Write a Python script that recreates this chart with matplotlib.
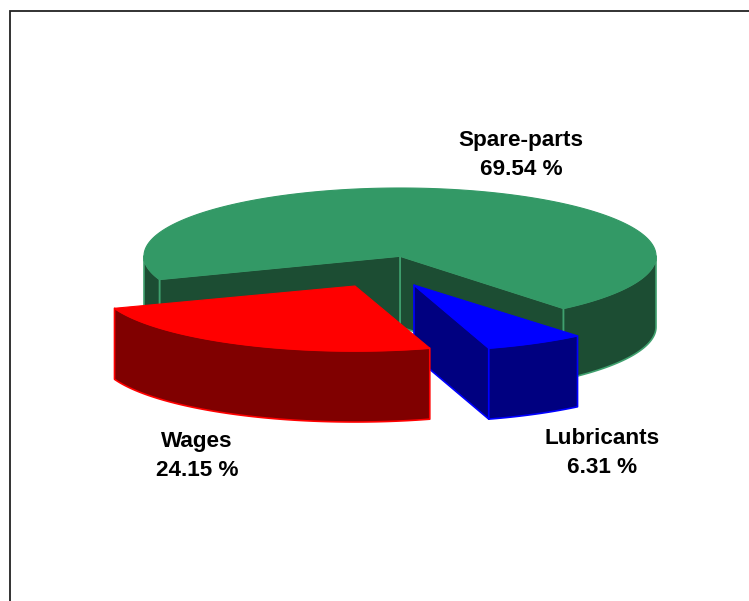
import numpy as np
import matplotlib
matplotlib.use("Agg")
import matplotlib.pyplot as plt
from matplotlib.patches import Polygon

plt.rcParams['font.family'] = ['Liberation Sans', 'DejaVu Sans']

labels = ["Spare-parts", "Wages", "Lubricants"]
values = [69.54, 24.15, 6.31]

top_colors = ["#339966", "#FF0000", "#0000FF"]
side_colors = ["#1C4D33", "#800000", "#000080"]
edge_colors = ["#3FA06E", "#FF0000", "#0000FF"]
centers = [(400, 256), (355, 286), (414, 285)]
radii_y = [68, 65, 66]
cut_faces = [(True, True), (False, False), (True, False)]
label_pos = [(521, 155), (197, 456), (602.5, 453)]

START = -50.3
RX, DEPTH = 256, 71

fig = plt.figure(figsize=(7.49, 6.01), dpi=100)
ax = fig.add_axes([0, 0, 1, 1])
ax.set_xlim(0, 749)
ax.set_ylim(601, 0)
ax.axis("off")

ax.plot([9.5, 9.5, 749], [601, 11, 11], color="#222222", lw=1.3,
        solid_joinstyle="miter", zorder=1)


def arc(c, ry, a0, a1, dy=0):
    t = np.radians(np.linspace(a0, a1, max(int(abs(a1 - a0)), 2) + 1))
    return np.column_stack([c[0] + RX * np.cos(t), c[1] + dy - ry * np.sin(t)])


def face(pts, fc, ec, z, lw=1.2):
    ax.add_patch(Polygon(pts, closed=True, facecolor=fc, edgecolor=ec, lw=lw,
                         joinstyle="round", zorder=z))


def wedge(i, a0, a1, z):
    c, ry = centers[i], radii_y[i]
    fc, sc, ec = top_colors[i], side_colors[i], edge_colors[i]
    base = np.array(c, float)
    down = np.array([0, DEPTH])
    for a, show in zip((a0, a1), cut_faces[i]):
        if show:
            p = arc(c, ry, a, a)[0]
            face([base, p, p + down, base + down], sc, ec, z)
    # visible part of the curved rim: the lower half of the ellipse
    for lo, hi in ((a0, a1), (a0 - 360, a1 - 360), (a0 + 360, a1 + 360)):
        s, e = max(lo, 180), min(hi, 360)
        if e > s:
            face(np.vstack([arc(c, ry, s, e), arc(c, ry, e, s, DEPTH)]), sc, ec, z + 0.1)
    ax.add_patch(Polygon(np.vstack([[base], arc(c, ry, a0, a1)]), closed=True,
                         facecolor=fc, edgecolor=fc if i == 0 else ec, lw=0.8,
                         zorder=z + 0.2))


angles = START + np.cumsum([0] + values) * 3.6
wedge(0, angles[0], angles[1], 2)
wedge(2, angles[2], angles[3], 3)
wedge(1, angles[1], angles[2], 4)

for name, v, (x, y) in zip(labels, values, label_pos):
    ax.text(x, y, f"{name}\n{v:.2f} %", ha="center", va="center",
            fontsize=16.2, fontweight="bold",
            color="black", linespacing=1.47, zorder=6)

fig.savefig("out.png", dpi=100)
